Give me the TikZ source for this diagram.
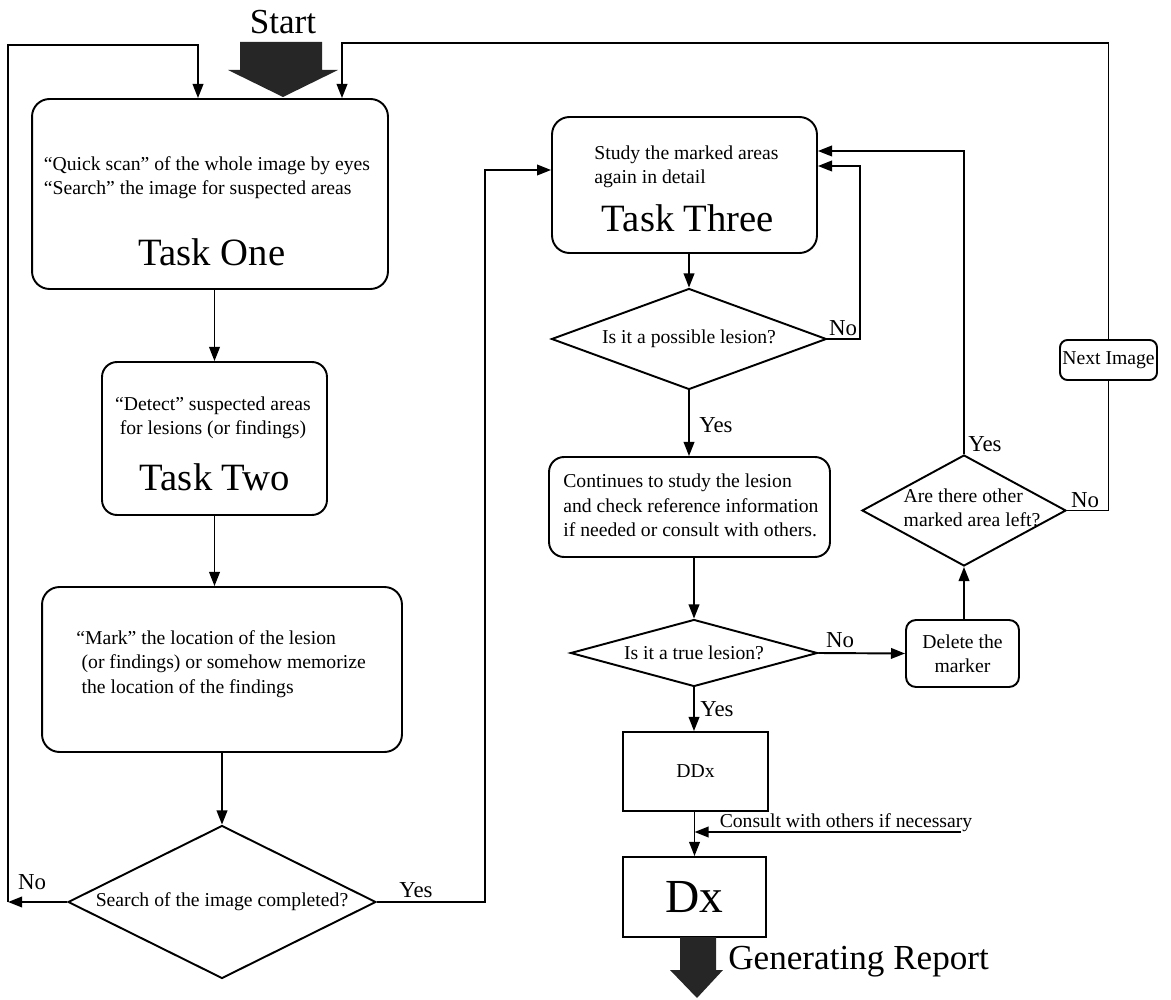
\documentclass[tikz,border=0pt]{standalone}
\usepackage{fontspec}
\setmainfont{Liberation Serif}
\usetikzlibrary{shapes.geometric,arrows.meta}

\tikzset{
	rbox/.style={draw, line width=1.1pt, rounded corners=0.35cm, inner sep=0pt},
	sbox/.style={draw, line width=1.1pt, inner sep=0pt},
	ask/.style={draw, diamond, line width=1.1pt, inner sep=0pt, font=\fontsize{11.2}{14}\selectfont},
	txt/.style={inner sep=0pt, font=\fontsize{11.2}{13.8}\selectfont},
	big/.style={inner sep=0pt, font=\fontsize{22}{26}\selectfont},
	ans/.style={inner sep=0pt, font=\fontsize{13}{15}\selectfont},
	arr/.style={-{Triangle[length=8pt,width=6pt]}, line width=1.1pt},
	wire/.style={line width=1.1pt}
}

\begin{document}
\begin{tikzpicture}[x=0.02cm, y=-0.02cm]
	\useasboundingbox (0,0) rectangle (1171,1000);

	\node[big, font=\fontsize{20}{24}\selectfont] (start) at (283,22) {Start};
	\fill[black!85] (240,42) -- (322,42) -- (322,70) -- (338,70) -- (283,97) -- (228,70) -- (240,70) -- cycle;

	\node[rbox, minimum width=7.12cm, minimum height=3.8cm] (one) at (210,194) {};
	\node[txt, align=left] at (207,178) {“Quick scan” of the whole image by eyes\\“Search” the image for suspected areas};
	\node[big] at (212,252) {Task One};

	\node[rbox, rounded corners=0.3cm, minimum width=4.5cm, minimum height=3.06cm] (two) at (214.5,438.5) {};
	\node[txt, align=center] at (213,418) {“Detect” suspected areas\\for lesions (or findings)};
	\node[big] at (215,477) {Task Two};

	\node[rbox, minimum width=7.2cm, minimum height=3.3cm] (mark) at (222,669.5) {};
	\node[txt, align=left, anchor=west] at (76,664) {“Mark” the location of the lesion\\\hspace{3pt}(or findings) or somehow memorize\\\hspace{3pt}the location of the findings};

	\node[ask, aspect=2, minimum width=6.16cm, minimum height=3.06cm] (search) at (222,902) {Search of the image completed?};

	\node[rbox, minimum width=5.3cm, minimum height=2.72cm] (three) at (684.5,185) {};
	\node[txt, align=left, anchor=west] at (594,167) {Study the marked areas\\again in detail};
	\node[big] at (688,218) {Task Three};

	\node[ask, aspect=2.7, minimum width=5.5cm, minimum height=2.02cm] (poss) at (689,339) {Is it a possible lesion?};

	\node[rbox, rounded corners=0.3cm, minimum width=5.62cm, minimum height=2cm] (cont) at (689.5,507) {};
	\node[txt, align=left, anchor=west] at (563,505.5) {Continues to study the lesion\\and check reference information\\if needed or consult with others.};

	\node[ask, aspect=3.7, minimum width=4.94cm, minimum height=1.34cm] (real) at (694,653) {Is it a true lesion?};

	\node[sbox, txt, minimum width=2.9cm, minimum height=1.58cm] (ddx) at (695.5,771.5) {DDx};
	\node[sbox, minimum width=2.86cm, minimum height=1.6cm, font=\fontsize{27}{30}\selectfont] (dx) at (694.5,897) {Dx};
	\fill[black!85] (680,937) -- (716,937) -- (716,970) -- (723,970) -- (697,998) -- (670,970) -- (680,970) -- cycle;
	\node[big, font=\fontsize{20}{24}\selectfont, anchor=west] (report) at (728,962) {Generating Report};

	\node[rbox, txt, rounded corners=0.2cm, align=center, minimum width=2.26cm, minimum height=1.34cm] (del) at (962.5,653.5) {Delete the\\marker};
	\node[ask, minimum width=4.08cm, minimum height=2.22cm] (other) at (964,510.5) {};
	\node[txt, align=left] at (972,508) {Are there other\\marked area left?};
	\node[rbox, txt, rounded corners=0.15cm, minimum width=1.94cm, minimum height=0.8cm] (next) at (1108.5,360) {Next Image};

	\coordinate (nl) at (8,902);
	\coordinate (tl) at (198,45);
	\coordinate (tr) at (342,43);
	\coordinate (yl) at (485,170);
	\coordinate (nr) at (860,166);
	\coordinate (yr) at (964,151);
	\coordinate (cs) at (961,832);

	\draw[arr] (one.south -| two.north) -- (two.north);
	\draw[arr] (two.south) -- (two.south |- mark.north);
	\draw[arr] (mark.south) -- (search.north);
	\draw[arr] (search.west) -- (nl);
	\draw[arr] (nl) |- (tl) -- (tl |- one.north);
	\draw[arr] (next.north) |- (tr) -- (tr |- one.north);
	\draw[arr] (search.east) -| (yl) -- (yl -| three.west);
	\draw[arr] (three.south -| poss.north) -- (poss.north);
	\draw[arr] (poss.east) -| (nr) -- (nr -| three.east);
	\draw[arr] (poss.south) -- (poss.south |- cont.north);
	\draw[arr] (cont.south -| real.north) -- (real.north);
	\draw[arr] (real.east) -- (del.west);
	\draw[arr] (real.south) -- (real.south |- ddx.north);
	\draw[arr] (del.north -| other.south) -- (other.south);
	\draw[arr] (other.north) -- (yr) -- (yr -| three.east);
	\draw[wire] (other.east) -| (next.south);
	\draw[arr] (ddx.south -| dx.north) -- (dx.north);
	\draw[arr] (cs) -- (cs -| dx.north);
	\node[txt] at (846,823) {Consult with others if necessary};

	\node[ans] at (32,882) {No};
	\node[ans] at (416,890) {Yes};
	\node[ans] at (843,328) {No};
	\node[ans] at (716,425) {Yes};
	\node[ans] at (840,640) {No};
	\node[ans] at (717,709) {Yes};
	\node[ans] at (985,444) {Yes};
	\node[ans] at (1085,500) {No};
\end{tikzpicture}
\end{document}
